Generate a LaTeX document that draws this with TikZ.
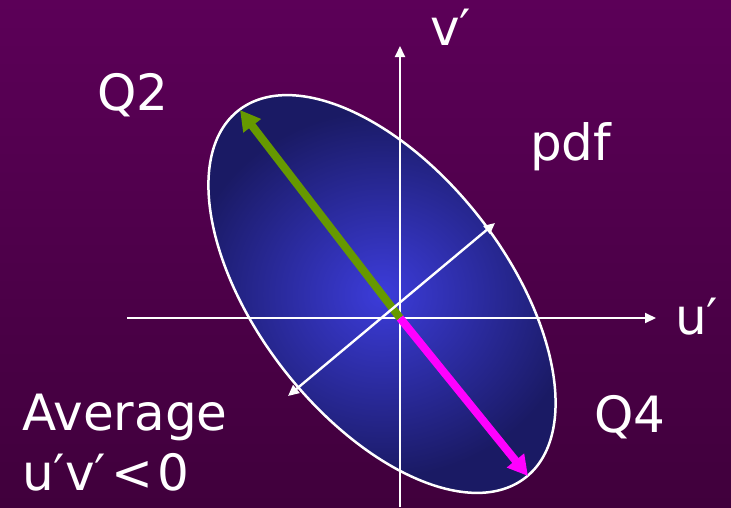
\documentclass[tikz,border=0pt]{standalone}
\usepackage{fontspec}
\setmainfont{DejaVu Sans}
\usetikzlibrary{positioning, arrows.meta}
\definecolor{bgtop}{RGB}{92, 0, 88}
\definecolor{bgbottom}{RGB}{64, 0, 60}
\definecolor{pdfcore}{RGB}{60, 60, 218}
\definecolor{pdfrim}{RGB}{26, 26, 100}
\definecolor{qgreen}{RGB}{102, 153, 0}
\definecolor{qmagenta}{RGB}{255, 0, 255}

\begin{document}
\begin{tikzpicture}[x=1pt, y=-1pt,
                lbl/.style={text=white, inner sep=0pt,
                    font=\fontsize{50}{60}\selectfont},
                axis/.style={-{Triangle[length=11pt, width=10pt]}, white,
                    line width=2pt},
                spread/.style={{Triangle[length=11pt, width=10pt]}-{Triangle[length=11pt, width=10pt]},
                    white, line width=2.4pt},
                quad/.style={-{Triangle[length=20pt, width=21pt]}, line width=8pt}
            ]

                % background
                \shade[top color=bgtop, bottom color=bgbottom] (0,0) rectangle (731,507);
                \useasboundingbox (0,0) rectangle (731,507);

                % joint pdf
                \coordinate (c) at (382,294);
                \shade[inner color=pdfcore, outer color=pdfrim, rotate around={-52:(c)}]
                    (c) ellipse [x radius=233, y radius=124];
                \draw[white, line width=2.5pt, rotate around={-52:(c)}]
                    (c) ellipse [x radius=233, y radius=124];

                % axes
                \coordinate (o) at (400,318);
                \coordinate (xl) at (127,318);
                \coordinate (xr) at (656,318);
                \coordinate (yb) at (400,507);
                \coordinate (yt) at (400,46);
                \draw[axis] (xl) -- (xr);
                \draw[axis] (yb) -- (yt);

                % quadrant arrows
                \coordinate (q2) at (240,110);
                \coordinate (q4) at (528,476);
                \draw[quad, qgreen] (o) -- (q2);
                \draw[quad, qmagenta] (o) -- (q4);

                % minor axis
                \coordinate (m1) at (288,396);
                \coordinate (m2) at (495,223);
                \draw[spread] (m1) -- (m2);

                % labels
                \node[lbl, anchor=base west] (tq2) at (97,110) {Q2};
                \node[lbl, anchor=base west] (tv) at (430,45) {v′};
                \node[lbl, anchor=base west] (tpdf) at (530,160) {pdf};
                \node[lbl, anchor=base west] (tu) at (675,334) {u′};
                \node[lbl, anchor=base west] (tq4) at (594,432) {Q4};
                \node[lbl, anchor=base west] (tavg) at (22,430) {Average};
                \node[lbl, anchor=base west] (tneg) at (22,490) {u′v′\hspace{5pt}<\hspace{4pt}0};

            \end{tikzpicture}
\end{document}
